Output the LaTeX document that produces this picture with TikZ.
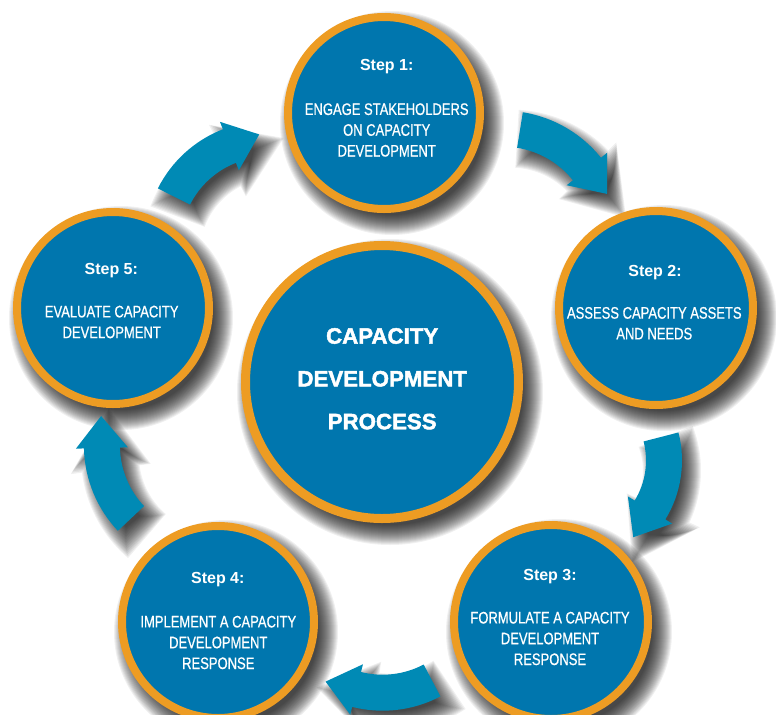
\documentclass[tikz,border=0pt]{standalone}
\usepackage{fontspec}
\setmainfont{Liberation Sans}
\newfontfamily\bodyfont{Liberation Sans}[FakeStretch=0.78, FakeBold=0.6]
\newfontfamily\corefont{Liberation Sans}[UprightFont=* Bold, UprightFeatures={FakeBold=2}]
\usetikzlibrary{calc}
\definecolor{cdblue}{RGB}{0,118,174}
\definecolor{cdorange}{RGB}{237,156,35}
\definecolor{cdteal}{RGB}{0,138,181}

% #1 style, #2 cx, #3 cy, #4 R, #5 start angle, #6 end angle, #7 offset
\newcommand{\cyclearrow}[7]{%
  \pgfmathsetmacro\aRo{#4+18+(#7)}%
  \pgfmathsetmacro\aRi{#4-18-(#7)}%
  \pgfmathsetmacro\aRbo{#4+26+1.3*(#7)}%
  \pgfmathsetmacro\aRbi{#4-26-1.3*(#7)}%
  \pgfmathsetmacro\aSt{#5-57.3*(#7)/#4}%
  \pgfmathsetmacro\aBs{#6-57.3*(#7)/#4}%
  \pgfmathsetmacro\aTa{#6+90}%
  \pgfmathsetmacro\aL{32+1.6*(#7)}%
  \path[#1] ($(#2,#3)+(\aSt:\aRo)$) arc[start angle=\aSt, end angle=\aBs, radius=\aRo]
    -- ($(#2,#3)+(\aBs:\aRbo)$) -- ($(#2,#3)+(#6:#4)+(\aTa:\aL)$)
    -- ($(#2,#3)+(\aBs:\aRbi)$) -- ($(#2,#3)+(\aBs:\aRi)$)
    arc[start angle=\aBs, end angle=\aSt, radius=\aRi] -- cycle;}

\begin{document}
\begin{tikzpicture}[x=0.75pt,y=-0.75pt,
  stepcircle/.style={circle, fill=cdblue, draw=cdorange, line width=6pt, minimum size=144pt, inner sep=0pt},
  corecircle/.style={circle, fill=cdblue, draw=cdorange, line width=6.75pt, minimum size=204.75pt, inner sep=0pt},
  steplabel/.style={text=white, font=\fontsize{12}{14}\selectfont\bfseries, inner sep=0pt, anchor=base},
  stepbody/.style={text=white, font=\bodyfont\fontsize{12.5}{15.6}\selectfont, align=center, inner sep=0pt},
  coretext/.style={text=white, font=\corefont\fontsize{16.7}{32.1}\selectfont, align=center, inner sep=0pt},
  arrowbody/.style={fill=cdteal},
  shadowlayer/.style={fill=black, opacity=0.06}]
\useasboundingbox (0,0) rectangle (776,715);

% soft shadows of circles
\foreach \ee in {12,11,...,-8} {
  \foreach \cx/\cy/\rr in {384/113/100, 656/308/101, 551/622/101, 218/622/100, 113/308/100, 382/382/141}
    \fill[shadowlayer] (\cx+8,\cy+10) circle[radius=\rr+\ee];
}
% soft shadows of arrows
\foreach \ee in {11,10,...,-9} {
  \cyclearrow{shadowlayer}{510.7}{246.7}{108.1}{-80.8}{-38.8}{\ee}
  \cyclearrow{shadowlayer}{577.5}{470.5}{94.5}{-14.43}{31.57}{\ee}
  \cyclearrow{shadowlayer}{390.6}{596.7}{106}{62.2}{104.2}{\ee}
  \cyclearrow{shadowlayer}{216.2}{455.4}{106.3}{136.6}{178.6}{\ee}
  \cyclearrow{shadowlayer}{275.4}{253.5}{104.6}{-153.3}{-111.3}{\ee}
}

% arrows
\cyclearrow{arrowbody}{502.7}{236.7}{108.1}{-80.8}{-38.8}{0}
\cyclearrow{arrowbody}{569.5}{460.5}{94.5}{-14.43}{31.57}{0}
\cyclearrow{arrowbody}{382.6}{586.7}{106}{62.2}{104.2}{0}
\cyclearrow{arrowbody}{208.2}{445.4}{106.3}{136.6}{178.6}{0}
\cyclearrow{arrowbody}{267.4}{243.5}{104.6}{-153.3}{-111.3}{0}

% circles
\node[stepcircle] (s1) at (384,113) {};
\node[stepcircle, minimum size=145.5pt] (s2) at (656,308) {};
\node[stepcircle, minimum size=145.5pt] (s3) at (551,622) {};
\node[stepcircle] (s4) at (218,622) {};
\node[stepcircle] (s5) at (113,308) {};
\node[corecircle] (core) at (382,382) {};

% texts
\node[steplabel] (l1) at (386.7,70.7) {Step 1:};
\node[stepbody] (b1) at (386.7,130) {ENGAGE STAKEHOLDERS\\ON CAPACITY\\DEVELOPMENT};
\node[steplabel] (l2) at (655,276) {Step 2:};
\node[stepbody] (b2) at (654.3,323.3) {ASSESS CAPACITY ASSETS\\AND NEEDS};
\node[steplabel] (l3) at (550,580) {Step 3:};
\node[stepbody] (b3) at (550,638.5) {FORMULATE A CAPACITY\\DEVELOPMENT\\RESPONSE};
\node[steplabel] (l4) at (217.8,583.3) {Step 4:};
\node[stepbody] (b4) at (218.3,642.5) {IMPLEMENT A CAPACITY\\DEVELOPMENT\\RESPONSE};
\node[steplabel] (l5) at (111.3,274) {Step 5:};
\node[stepbody] (b5) at (111.7,322) {EVALUATE CAPACITY\\DEVELOPMENT};
\node[coretext] (ct) at (382.2,378.8) {CAPACITY\\DEVELOPMENT\\PROCESS};
\end{tikzpicture}
\end{document}
